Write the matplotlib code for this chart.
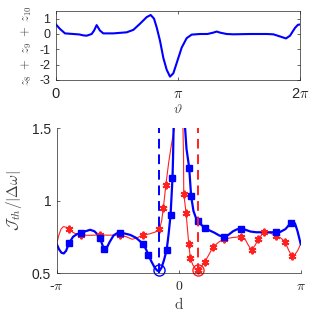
import numpy as np
import matplotlib
matplotlib.use("Agg")
import matplotlib.pyplot as plt

plt.rcParams['mathtext.fontset'] = 'cm'
plt.rcParams['font.family'] = ['Liberation Sans', 'DejaVu Sans']

# ---- top panel data: z8+z9+z10 vs theta ----
theta = [0.000, 0.103, 0.232, 0.446, 0.600, 0.704, 0.790, 0.918, 0.979, 1.047,
         1.133, 1.219, 1.476, 1.820, 1.992, 2.163, 2.335, 2.438, 2.524, 2.592,
         2.678, 2.764, 2.850, 2.936, 3.022, 3.107, 3.236, 3.365, 3.494, 3.708,
         3.900, 4.052, 4.137, 4.223, 4.395, 4.567, 5.000, 5.425, 5.597, 5.769,
         5.923, 6.026, 6.155, 6.230, 6.283]
zsum = [0.62, 0.33, 0.04, 0.00, -0.03, -0.09, -0.11, 0.00, 0.22, 0.58,
        0.22, 0.04, 0.04, 0.11, 0.27, 0.67, 1.10, 1.24, 1.00, 0.44,
        -0.44, -1.56, -2.33, -2.78, -2.56, -1.90, -0.89, -0.27, -0.04, 0.00,
        0.00, 0.09, 0.16, 0.09, 0.00, -0.02, 0.00, 0.00, -0.02, -0.16,
        -0.29, -0.11, 0.40, 0.60, 0.62]
top_xticks = [0, np.pi, 2 * np.pi]
top_xticklabels = ['0', r'$\pi$', r'2$\pi$']
top_yticks = [-3, -2, -1, 0, 1]

# ---- bottom panel data ----
blue_x = [-3.1416, -3.08, -3.02, -2.96, -2.90, -2.825, -2.72, -2.62, -2.516, -2.40,
          -2.28, -2.17, -2.08, -2.027, -1.97, -1.924, -1.86, -1.78, -1.68, -1.60,
          -1.512, -1.40, -1.25, -1.10, -1.00, -0.91, -0.84, -0.78, -0.70, -0.62,
          -0.55, -0.50, -0.44, -0.38, -0.31, -0.26, -0.21, -0.16, -0.145, -0.132,
          -0.12, np.nan,
          0.15, 0.165, 0.20, 0.27, 0.32, 0.38, 0.44, 0.50, 0.58, 0.68,
          0.80, 0.92, 1.05, 1.175, 1.28, 1.40, 1.50, 1.597, 1.72, 1.85,
          2.00, 2.20, 2.40, 2.506, 2.62, 2.75, 2.83, 2.894, 2.95, 3.00,
          3.06, 3.1416]
blue_y = [0.702, 0.665, 0.642, 0.637, 0.655, 0.707, 0.752, 0.770, 0.776, 0.790,
          0.800, 0.790, 0.765, 0.743, 0.700, 0.666, 0.672, 0.715, 0.760, 0.775,
          0.778, 0.775, 0.765, 0.745, 0.722, 0.700, 0.665, 0.626, 0.580, 0.540,
          0.518, 0.515, 0.540, 0.590, 0.661, 0.770, 0.900, 1.155, 1.300, 1.500,
          1.700, np.nan,
          1.700, 1.500, 1.360, 1.228, 1.033, 0.930, 0.885, 0.860, 0.835, 0.810,
          0.795, 0.780, 0.760, 0.752, 0.765, 0.790, 0.803, 0.808, 0.800, 0.788,
          0.783, 0.783, 0.783, 0.783, 0.786, 0.805, 0.830, 0.849, 0.858, 0.840,
          0.790, 0.702]
blue_mx = [-2.825, -2.516, -2.027, -1.924, -1.512, -0.91, -0.78, -0.31, -0.21, -0.16,
           0.27, 0.32, 0.50, 0.68, 1.175, 1.597, 2.506, 2.894]
blue_my = [0.707, 0.776, 0.743, 0.666, 0.778, 0.700, 0.626, 0.661, 0.900, 1.155,
           1.228, 1.033, 0.860, 0.810, 0.752, 0.808, 0.783, 0.849]

red_x = [-3.1416, -3.09, -3.03, -2.97, -2.90, -2.825, -2.72, -2.62, -2.516, -2.30,
         -2.027, -1.80, -1.512, -1.35, -1.20, -1.08, -0.98, -0.91, -0.75, -0.60,
         -0.498, -0.44, -0.396, -0.33, -0.26, -0.18, -0.11, -0.09, np.nan,
         0.09, 0.11, 0.125, 0.13, 0.19, 0.26, 0.30, 0.36, 0.43, 0.505,
         0.58, 0.677, 0.78, 0.891, 1.03, 1.175, 1.40, 1.597, 1.70, 1.80,
         1.88, 1.96, 2.05, 2.197, 2.35, 2.506, 2.62, 2.738, 2.83, 2.91,
         2.98, 3.06, 3.1416]
red_y = [0.702, 0.760, 0.805, 0.822, 0.818, 0.803, 0.782, 0.768, 0.764, 0.762,
         0.764, 0.763, 0.764, 0.752, 0.735, 0.742, 0.758, 0.764, 0.772, 0.785,
         0.803, 0.860, 0.950, 1.110, 1.260, 1.400, 1.500, 1.700, np.nan,
         1.700, 1.500, 1.300, 1.050, 0.916, 0.700, 0.605, 0.560, 0.530, 0.523,
         0.545, 0.580, 0.630, 0.683, 0.715, 0.737, 0.747, 0.752, 0.740, 0.690,
         0.661, 0.690, 0.734, 0.787, 0.778, 0.760, 0.745, 0.718, 0.660, 0.621,
         0.625, 0.655, 0.702]
red_mx = [-2.825, -2.516, -2.027, -1.512, -0.91, -0.498, -0.396, -0.33, 0.13, 0.19,
          0.26, 0.30, 0.505, 0.677, 0.891, 1.175, 1.597, 1.88, 2.05, 2.197,
          2.506, 2.738, 2.91]
red_my = [0.803, 0.764, 0.764, 0.764, 0.764, 0.803, 0.950, 1.110, 1.050, 0.916,
          0.700, 0.605, 0.523, 0.580, 0.683, 0.737, 0.752, 0.661, 0.734, 0.787,
          0.760, 0.718, 0.621]

blue_crit_x, blue_crit_y = -0.52, 0.52
red_crit_x, red_crit_y = 0.505, 0.52

bot_xticks = [-np.pi, 0, np.pi]
bot_xticklabels = [r'-$\pi$', r'$0$', r'$\pi$']
bot_yticks = [0.5, 1, 1.5]

BLUE = '#0000ff'
RED = '#ff2020'
AXC = '#262626'

fig = plt.figure(figsize=(3.16, 3.16), dpi=100)

# top axes
ax1 = fig.add_axes([56 / 316, 1 - 80 / 316, 244 / 316, 69 / 316])
ax1.plot(theta, zsum, color=BLUE, lw=1.5)
ax1.set_xlim(0, 2 * np.pi)
ax1.set_ylim(-3, 1.5)
ax1.set_xticks(top_xticks)
ax1.set_xticklabels(top_xticklabels, fontsize=10.5)
ax1.set_yticks(top_yticks)
ax1.set_yticklabels([str(v) for v in top_yticks], fontsize=9)
ax1.tick_params(direction='in', length=2.5, width=0.5, colors=AXC, top=True, right=True)
ax1.tick_params(axis='x', pad=5)
ax1.tick_params(axis='y', pad=4)
for s in ax1.spines.values():
    s.set_linewidth(0.5)
    s.set_color(AXC)
ax1.set_xlabel(r'$\vartheta$', fontsize=10, color='#404040', labelpad=1)
ax1.set_ylabel(r'$z_8\ +\ z_9\ +\ z_{10}$', fontsize=9, color='#404040', labelpad=4)

# bottom axes
ax2 = fig.add_axes([56.7 / 316, 1 - 273.3 / 316, 244 / 316, 145 / 316])
ax2.plot(red_x, red_y, color=RED, lw=0.8)
ax2.plot(blue_x, blue_y, color=BLUE, lw=1.6)
ax2.plot(red_mx, red_my, ls='none', marker=(6, 2, 0), ms=5.5, mew=1.4, color=RED)
ax2.plot(blue_mx, blue_my, ls='none', marker='s', ms=4, color=BLUE)
ax2.axvline(blue_crit_x, color=BLUE, lw=1.4, ls=(0, (5, 3)))
ax2.axvline(red_crit_x, color=RED, lw=1.4, ls=(0, (5, 3)))
ax2.plot([blue_crit_x], [blue_crit_y], marker='o', ms=8, mfc='none', mec=BLUE, mew=1.0, clip_on=False)
ax2.plot([red_crit_x], [red_crit_y], marker='o', ms=8, mfc='none', mec=RED, mew=1.0, clip_on=False)
ax2.plot([red_crit_x], [red_crit_y], marker=(6, 2, 0), ms=5.5, mew=1.4, color=RED, clip_on=False)
ax2.set_xlim(-np.pi, np.pi)
ax2.set_ylim(0.5, 1.5)
ax2.set_xticks(bot_xticks)
ax2.set_xticklabels(bot_xticklabels, fontsize=10)
ax2.set_yticks(bot_yticks)
ax2.set_yticklabels(['0.5', '1', '1.5'], fontsize=10)
ax2.tick_params(direction='in', length=2.5, width=0.5, colors=AXC, pad=4)
ax2.spines['top'].set_visible(False)
ax2.spines['right'].set_visible(False)
for s in ['left', 'bottom']:
    ax2.spines[s].set_linewidth(0.5)
    ax2.spines[s].set_color(AXC)
ax2.set_xlabel(r'$\mathrm{d}$', fontsize=11, color='#404040', labelpad=2)
ax2.set_ylabel(r'$\mathcal{J}_{th}/|\Delta\omega|$', fontsize=11, color='#404040', labelpad=6)

fig.savefig('out.png', dpi=100)
